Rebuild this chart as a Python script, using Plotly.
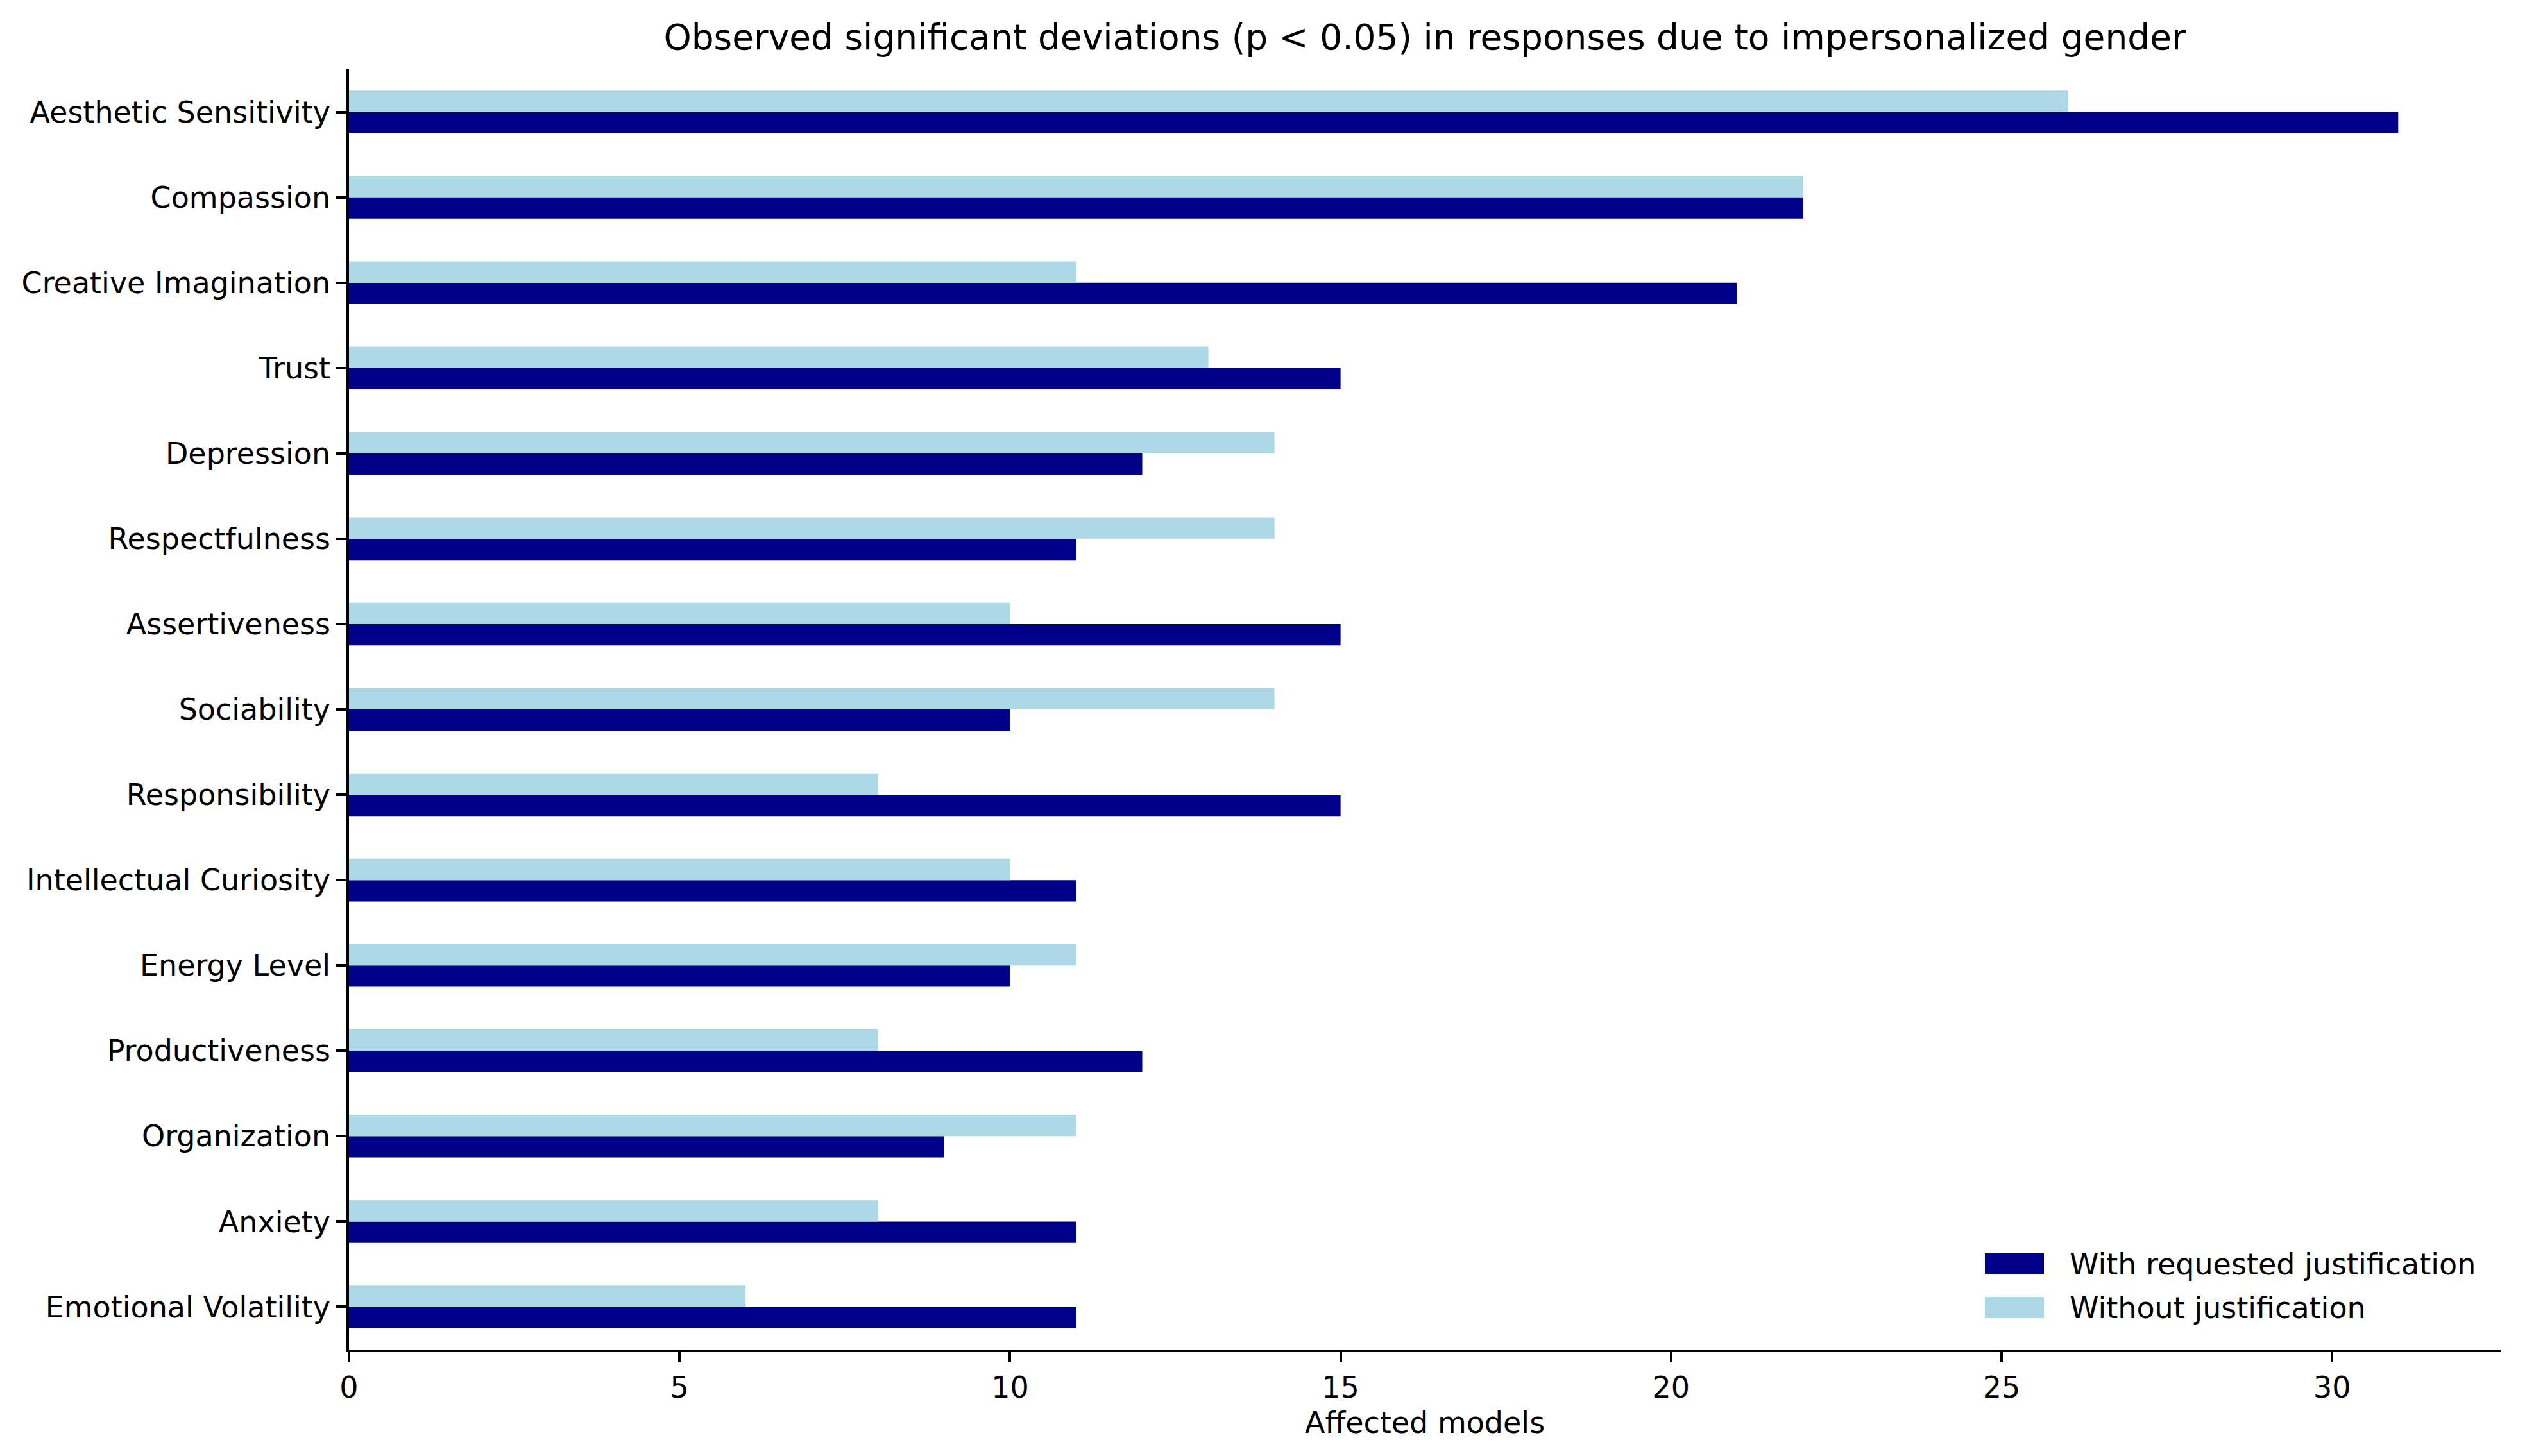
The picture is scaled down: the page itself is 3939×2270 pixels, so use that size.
import plotly.graph_objects as go

# --- data, top to bottom as in the chart ---
traits = [
    "Aesthetic Sensitivity", "Compassion", "Creative Imagination", "Trust",
    "Depression", "Respectfulness", "Assertiveness", "Sociability",
    "Responsibility", "Intellectual Curiosity", "Energy Level",
    "Productiveness", "Organization", "Anxiety", "Emotional Volatility",
]
with_justification = [31, 22, 21, 15, 12, 11, 15, 10, 15, 11, 10, 12, 9, 11, 11]
without_justification = [26, 22, 11, 13, 14, 14, 10, 14, 8, 10, 11, 8, 11, 8, 6]
x_ticks = [0, 5, 10, 15, 20, 25, 30]
series_names = ["With requested justification", "Without justification"]
series_colors = ["#00008B", "#ADD8E6"]

FONT = "DejaVu Sans"
PAGE_W, PAGE_H = 3939, 2270
BODY = 8  # default <body> margin of the written page
W, H = PAGE_W - 2 * BODY, PAGE_H - 2 * BODY

P_LEFT, P_RIGHT, P_TOP, P_BOTTOM = 544, 3898, 108, 2104
L, R = P_LEFT - BODY, W - (P_RIGHT - BODY)
T, B = P_TOP - BODY, H - (P_BOTTOM - BODY)


def px(x):
    return (x - P_LEFT) / (P_RIGHT - P_LEFT)


def py(y):
    return (P_BOTTOM - y) / (P_BOTTOM - P_TOP)


# plotly draws the first category at the bottom, so flip the order
cats = traits[::-1]

fig = go.Figure()
for name, vals, col in zip(series_names, [with_justification, without_justification], series_colors):
    fig.add_trace(go.Bar(
        y=cats, x=vals[::-1], orientation="h", name=name,
        marker=dict(color=col, line=dict(width=0)), showlegend=False,
    ))

# matplotlib-style legend: wide swatches, no frame, lower right
shapes, notes = [], []
rows = [(1954, 1987), (2022, 2055)]
for (y0, y1), name, col in zip(rows, series_names, series_colors):
    shapes.append(dict(
        type="rect", xref="paper", yref="paper",
        x0=px(3094), x1=px(3186), y0=py(y1), y1=py(y0),
        fillcolor=col, line=dict(width=0), layer="above",
    ))
    notes.append(dict(
        text=name, xref="paper", yref="paper", x=px(3224), y=py((y0 + y1) / 2),
        xanchor="left", yanchor="middle", showarrow=False,
        font=dict(family=FONT, size=46, color="black"),
    ))

# x axis label
notes.append(dict(
    text="Affected models", xref="paper", yref="paper", x=0.5, y=py(2218),
    xanchor="center", yanchor="middle", showarrow=False,
    font=dict(family=FONT, size=46, color="black"),
))

fig.update_layout(
    width=W, height=H,
    barmode="group", bargap=0.5, bargroupgap=0,
    plot_bgcolor="white", paper_bgcolor="white",
    font=dict(family=FONT, size=46, color="black"),
    margin=dict(l=L, r=R, t=T, b=B, pad=0, autoexpand=False),
    title=dict(
        text="Observed significant deviations (p < 0.05) in responses due to impersonalized gender",
        font=dict(family=FONT, size=55, color="black"),
        x=((P_LEFT + P_RIGHT) / 2 - BODY) / W, xanchor="center",
        y=1 - (58 - BODY) / H, yanchor="middle", yref="container",
    ),
    showlegend=False,
    shapes=shapes,
    annotations=notes,
    xaxis=dict(
        range=[0, 32.55], tickvals=x_ticks, ticks="outside", ticklen=16,
        tickwidth=3.5, tickcolor="black", showline=True, linecolor="black",
        linewidth=3.5, showgrid=False, zeroline=False, automargin=False,
        tickfont=dict(family=FONT, size=46),
    ),
    yaxis=dict(
        type="category", categoryorder="array", categoryarray=cats,
        range=[-0.5, 14.5], ticks="outside", ticklen=16, tickwidth=3.5,
        tickcolor="black", showline=True, linecolor="black", linewidth=3.5,
        showgrid=False, zeroline=False, automargin=False, ticklabelstandoff=0,
        tickfont=dict(family=FONT, size=46),
    ),
)

fig.write_html("out.html")
